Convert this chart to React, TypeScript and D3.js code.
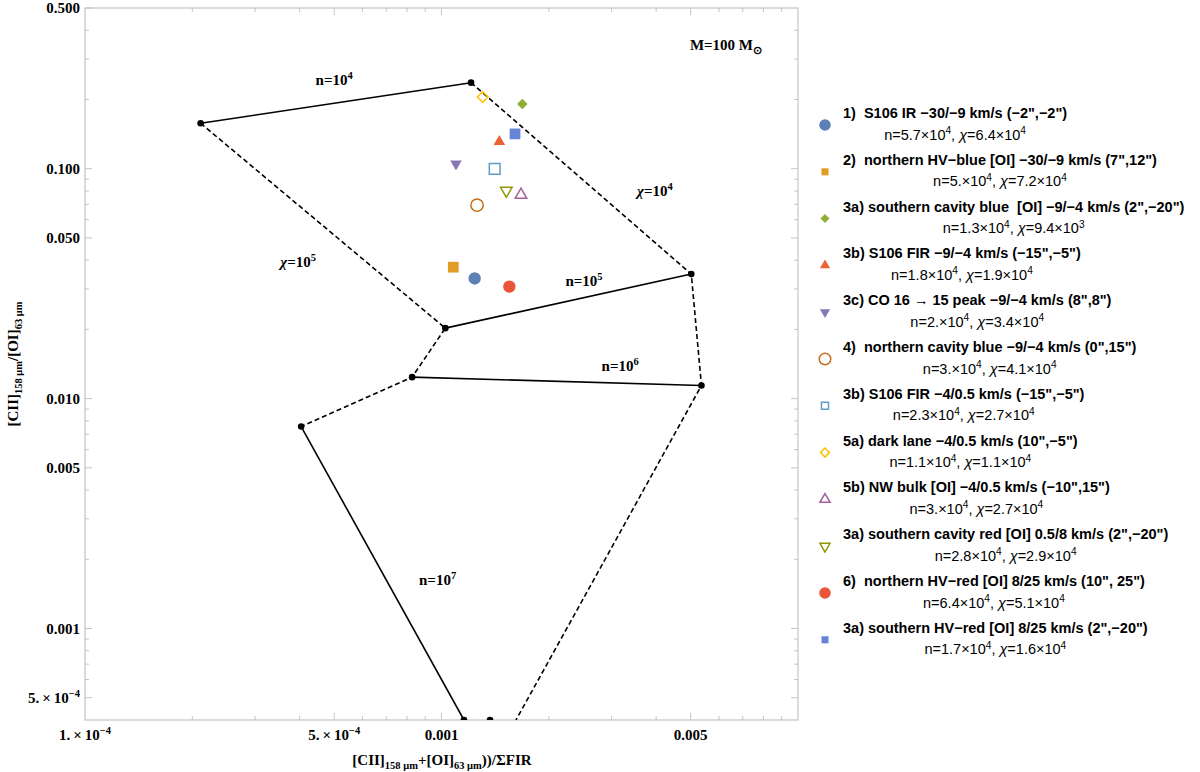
import { useEffect, useRef } from "react";
import * as d3 from "d3";

// axis ranges and ticks
const xDomain = [1e-4, 1e-2];
const yDomain = [4e-4, 0.5];
const xMajor = [1e-4, 5e-4, 1e-3, 5e-3];
const xMajorLabels = ["1.\u2009×\u200910^{−4}", "5.\u2009×\u200910^{−4}", "0.001", "0.005"];
const yMajor = [5e-4, 1e-3, 5e-3, 1e-2, 5e-2, 0.1, 0.5];
const yMajorLabels = ["5.\u2009×\u200910^{−4}", "0.001", "0.005", "0.010", "0.050", "0.100", "0.500"];

// PDR model grid: constant density (solid) and constant field (dashed)
const nLineX = [
  [2.11e-4, 1.21e-3],
  [1.025e-3, 5.02e-3],
  [8.27e-4, 5.36e-3],
  [4.04e-4, 1.156e-3],
];
const nLineY = [
  [0.1576, 0.2367],
  [0.02025, 0.0348],
  [0.0124, 0.0114],
  [0.00756, 4e-4],
];
const chiLineX = [
  [2.11e-4, 1.025e-3, 8.27e-4, 4.04e-4],
  [1.21e-3, 5.02e-3, 5.36e-3, 1.618e-3],
];
const chiLineY = [
  [0.1576, 0.02025, 0.0124, 0.00756],
  [0.2367, 0.0348, 0.0114, 4e-4],
];
const nodeX = [2.11e-4, 1.21e-3, 5.02e-3, 1.025e-3, 8.27e-4, 5.36e-3, 4.04e-4, 1.156e-3, 1.368e-3];
const nodeY = [0.1576, 0.2367, 0.0348, 0.02025, 0.0124, 0.0114, 0.00756, 4e-4, 4e-4];

const gridLabels = ["n=10^{4}", "χ=10^{4}", "χ=10^{5}", "n=10^{5}", "n=10^{6}", "n=10^{7}", "M=100 M_{⊙}"];
const gridLabelX = [5.0e-4, 3.97e-3, 3.96e-4, 2.51e-3, 3.17e-3, 9.75e-4, 6.28e-3];
const gridLabelY = [0.231, 0.0762, 0.0374, 0.0309, 0.0132, 0.00155, 0.328];

// observed regions
const pointX = [1.239e-3, 1.079e-3, 1.685e-3, 1.453e-3, 1.098e-3, 1.258e-3, 1.41e-3, 1.305e-3, 1.671e-3, 1.52e-3, 1.55e-3, 1.608e-3];
const pointY = [0.0333, 0.0373, 0.1912, 0.1312, 0.1049, 0.0694, 0.0998, 0.2051, 0.0769, 0.0803, 0.0307, 0.1417];
const legendTitles = [
  "1)  S106 IR −30/−9 km/s (−2\",−2\")",
  "2)  northern HV−blue [OI] −30/−9 km/s (7\",12\")",
  "3a) southern cavity blue  [OI] −9/−4 km/s (2\",−20\")",
  "3b) S106 FIR −9/−4 km/s (−15\",−5\")",
  "3c) CO 16 → 15 peak −9/−4 km/s (8\",8\")",
  "4)  northern cavity blue −9/−4 km/s (0\",15\")",
  "3b) S106 FIR −4/0.5 km/s (−15\",−5\")",
  "5a) dark lane −4/0.5 km/s (10\",−5\")",
  "5b) NW bulk [OI] −4/0.5 km/s (−10\",15\")",
  "3a) southern cavity red [OI] 0.5/8 km/s (2\",−20\")",
  "6)  northern HV−red [OI] 8/25 km/s (10\", 25\")",
  "3a) southern HV−red [OI] 8/25 km/s (2\",−20\")",
];
const legendParams = [
  "n=5.7×10^{4}, χ=6.4×10^{4}",
  "n=5.×10^{4}, χ=7.2×10^{4}",
  "n=1.3×10^{4}, χ=9.4×10^{3}",
  "n=1.8×10^{4}, χ=1.9×10^{4}",
  "n=2.×10^{4}, χ=3.4×10^{4}",
  "n=3.×10^{4}, χ=4.1×10^{4}",
  "n=2.3×10^{4}, χ=2.7×10^{4}",
  "n=1.1×10^{4}, χ=1.1×10^{4}",
  "n=3.×10^{4}, χ=2.7×10^{4}",
  "n=2.8×10^{4}, χ=2.9×10^{4}",
  "n=6.4×10^{4}, χ=5.1×10^{4}",
  "n=1.7×10^{4}, χ=1.6×10^{4}",
];
const markerShapes = ["circle", "square", "diamond", "triangle", "triangleDown", "circle", "square", "diamond", "triangle", "triangleDown", "circle", "square"];
const markerOpen = [false, false, false, false, false, true, true, true, true, true, false, false];

const palette = ["#5E81B5", "#E19C24", "#8FB032", "#EB6235", "#8778B3", "#C56E1A", "#5D9EC7", "#FFBF00", "#A5609D", "#929600", "#E95536", "#6685D9"];

const serif = "'Liberation Serif', 'Times New Roman', serif";
const sans = "'Liberation Sans', Arial, sans-serif";

function rich(text: any, str: string, size: number) {
  const parts = str.split(/(\^\{[^}]*\}|_\{[^}]*\}|χ)/).filter((s) => s.length);
  let shift = 0;
  parts.forEach((p) => {
    let content = p;
    let fs = size;
    let target = 0;
    if (p.startsWith("^{")) {
      content = p.slice(2, -1);
      fs = size * 0.7;
      target = -size * 0.38;
    } else if (p.startsWith("_{")) {
      content = p.slice(2, -1);
      fs = size * 0.7;
      target = size * 0.25;
    }
    const t = text.append("tspan").attr("dy", target - shift).attr("font-size", fs).text(content);
    if (p === "χ") t.attr("font-style", "italic");
    shift = target;
  });
}

function symbolPath(shape: string, plot: boolean) {
  const s = plot
    ? { circle: 120, square: 115, diamond: 72, triangle: 58, triangleDown: 58 }
    : { circle: 105, square: 50, diamond: 52, triangle: 45, triangleDown: 45 };
  const type =
    shape === "circle" ? d3.symbolCircle :
    shape === "square" ? d3.symbolSquare :
    shape === "diamond" ? (d3 as any).symbolDiamond2 || d3.symbolDiamond :
    d3.symbolTriangle;
  return d3.symbol().type(type).size((s as any)[shape])();
}

export default function App() {
  const svgRef = useRef(null);

  useEffect(() => {
    const width = 1200;
    const height = 772;
    const left = 85, right = 798, top = 8, bottom = 720;

    const svg = d3.select(svgRef.current);
    svg.selectAll("*").remove();
    svg.attr("width", width).attr("height", height);

    const x = d3.scaleLog().domain(xDomain).range([left, right]);
    const y = d3.scaleLog().domain(yDomain).range([bottom, top]);

    svg.append("rect").attr("width", width).attr("height", height).attr("fill", "white");

    svg.append("defs").append("clipPath").attr("id", "plotclip")
      .append("rect").attr("x", left).attr("y", top).attr("width", right - left).attr("height", bottom - top);

    // frame
    const frameColor = "#c4c4c4";
    svg.append("rect")
      .attr("x", left).attr("y", top).attr("width", right - left).attr("height", bottom - top)
      .attr("fill", "none").attr("stroke", frameColor).attr("stroke-width", 1.2);

    const isMajor = (v: number, list: number[]) => list.some((m) => Math.abs(m / v - 1) < 1e-6);

    // x ticks top & bottom
    const ticks = svg.append("g").attr("stroke", frameColor).attr("stroke-width", 1);
    x.ticks().filter((v) => v > xDomain[0] * 1.0001 && v < xDomain[1] * 0.9999).forEach((v) => {
      const len = isMajor(v, xMajor) ? 7 : 4;
      ticks.append("line").attr("x1", x(v)).attr("x2", x(v)).attr("y1", bottom).attr("y2", bottom - len);
      ticks.append("line").attr("x1", x(v)).attr("x2", x(v)).attr("y1", top).attr("y2", top + len);
    });
    y.ticks().filter((v) => v > yDomain[0] * 1.0001 && v < yDomain[1] * 0.9999).forEach((v) => {
      const len = isMajor(v, yMajor) ? 7 : 4;
      ticks.append("line").attr("y1", y(v)).attr("y2", y(v)).attr("x1", left).attr("x2", left + len);
      ticks.append("line").attr("y1", y(v)).attr("y2", y(v)).attr("x1", right).attr("x2", right - len);
    });
    [0.5].forEach((v) => {
      ticks.append("line").attr("y1", y(v)).attr("y2", y(v)).attr("x1", left).attr("x2", left + 7);
    });

    // tick labels
    xMajor.forEach((v, i) => {
      const t = svg.append("text").attr("x", x(v)).attr("y", 740)
        .attr("text-anchor", "middle").attr("font-family", serif).attr("font-weight", "bold").attr("font-size", 15);
      rich(t, xMajorLabels[i], 15);
    });
    yMajor.forEach((v, i) => {
      const t = svg.append("text").attr("x", 80).attr("y", y(v) + 5)
        .attr("text-anchor", "end").attr("font-family", serif).attr("font-weight", "bold").attr("font-size", 15);
      rich(t, yMajorLabels[i], 15);
    });

    // axis titles
    const xt = svg.append("text").attr("x", 442).attr("y", 765)
      .attr("text-anchor", "middle").attr("font-family", serif).attr("font-weight", "bold").attr("font-size", 15);
    rich(xt, "[CII]_{158 μm}+[OI]_{63 μm}))/ΣFIR", 15);
    const yt = svg.append("text").attr("transform", "translate(18,364) rotate(-90)")
      .attr("text-anchor", "middle").attr("font-family", serif).attr("font-weight", "bold").attr("font-size", 15);
    rich(yt, "[CII]_{158 μm}/[OI]_{63 μm}", 15);

    // model grid
    const grid = svg.append("g").attr("clip-path", "url(#plotclip)");
    const line = d3.line<[number, number]>().x((d) => x(d[0])).y((d) => y(d[1]));
    nLineX.forEach((xs, i) => {
      grid.append("path").attr("d", line(xs.map((v, j) => [v, nLineY[i][j]]) as any))
        .attr("fill", "none").attr("stroke", "black").attr("stroke-width", 1.6);
    });
    chiLineX.forEach((xs, i) => {
      grid.append("path").attr("d", line(xs.map((v, j) => [v, chiLineY[i][j]]) as any))
        .attr("fill", "none").attr("stroke", "black").attr("stroke-width", 1.6)
        .attr("stroke-dasharray", "5,3");
    });
    nodeX.forEach((v, i) => {
      grid.append("circle").attr("cx", x(v)).attr("cy", y(nodeY[i])).attr("r", 3.3).attr("fill", "black");
    });

    gridLabels.forEach((s, i) => {
      const t = svg.append("text").attr("x", x(gridLabelX[i])).attr("y", y(gridLabelY[i]))
        .attr("text-anchor", "middle").attr("font-family", serif).attr("font-weight", "bold").attr("font-size", 15);
      rich(t, s, 15);
    });

    // data points
    const drawMarker = (g: any, i: number, cx: number, cy: number, plot: boolean) => {
      const shape = markerShapes[i];
      const p = g.append("path").attr("d", symbolPath(shape, plot))
        .attr("transform", `translate(${cx},${cy})${shape === "triangleDown" ? " rotate(180)" : ""}`);
      if (markerOpen[i]) {
        p.attr("fill", "none").attr("stroke", palette[i]).attr("stroke-width", 1.5);
      } else {
        p.attr("fill", palette[i]);
      }
    };
    const pts = svg.append("g");
    pointX.forEach((v, i) => drawMarker(pts, i, x(v), y(pointY[i]), true));

    // legend
    const lg = svg.append("g");
    const step = 46.8;
    legendTitles.forEach((title, i) => {
      const y0 = 118 + i * step;
      drawMarker(lg, i, 825, y0 + 7, false);
      const t1 = lg.append("text").attr("x", 843).attr("y", y0)
        .attr("font-family", sans).attr("font-weight", "bold").attr("font-size", 14.5)
        .style("white-space", "pre").text(title);
      const w = (t1.node() as any).getComputedTextLength();
      const t2 = lg.append("text").attr("x", 843 + w / 2).attr("y", y0 + 21.5)
        .attr("text-anchor", "middle").attr("font-family", sans).attr("font-size", 14.5);
      rich(t2, legendParams[i], 14.5);
    });
  }, []);

  return (
    <svg ref={svgRef} style={{ position: "absolute", left: 0, top: 0 }}></svg>
  );
}
